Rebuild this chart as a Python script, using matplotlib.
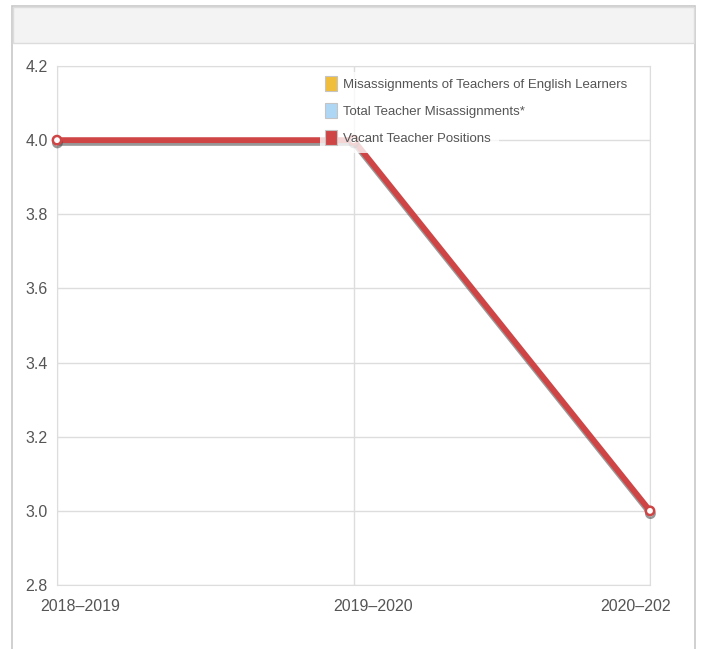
import matplotlib
matplotlib.use('Agg')
import matplotlib.pyplot as plt
import matplotlib.patheffects as pe
from matplotlib.patches import Rectangle, Patch
from matplotlib.transforms import ScaledTranslation, Bbox

plt.rcParams['font.family'] = ['Liberation Sans', 'DejaVu Sans']

years = ['2018–2019', '2019–2020', '2020–202']
vacant = [4.0, 4.0, 3.0]
series_names = ['Misassignments of Teachers of English Learners',
                'Total Teacher Misassignments*',
                'Vacant Teacher Positions']
series_colors = ['#F0BE3A', '#AED6F5', '#CF4545']
yticks = [2.8, 3.0, 3.2, 3.4, 3.6, 3.8, 4.0, 4.2]

fig = plt.figure(figsize=(7.01, 6.49), dpi=100)
W, H = 701, 649

# panel frame and header band
fig.patches.append(Rectangle((12 / W, -0.01), (695 - 12) / W, (H - 6) / H + 0.01,
                             transform=fig.transFigure, facecolor='white',
                             edgecolor='#c8c8c8', linewidth=1.2, zorder=-2))
fig.patches.append(Rectangle((13 / W, (H - 43) / H), (694 - 13) / W, 36 / H,
                             transform=fig.transFigure, facecolor='#f3f3f3',
                             edgecolor='#dcdcdc', linewidth=1, zorder=-1))

ax = fig.add_axes([57 / W, (H - 585) / H, (650 - 57) / W, (585 - 66) / H])
ax.set_facecolor('none')

ax.plot(range(len(years)), vacant, color=series_colors[2], linewidth=4.2,
        marker='o', markersize=6, markerfacecolor='white',
        markeredgecolor=series_colors[2], markeredgewidth=1.8, clip_on=False,
        solid_capstyle='butt', zorder=3,
        path_effects=[pe.SimpleLineShadow(offset=(0.3, -2.0), shadow_color='#444444', alpha=0.55),
                      pe.Normal()])

ax.set_xlim(0, len(years) - 1)
ax.set_ylim(2.8, 4.2)
ax.set_yticks(yticks)
ax.set_yticklabels(['%.1f' % v for v in yticks])
ax.set_xticks(range(len(years)))
ax.set_xticklabels(years)
ax.grid(True, color='#dddddd', linewidth=1)
ax.set_axisbelow(True)
for s in ax.spines.values():
    s.set_color('#dddddd')
ax.tick_params(length=0, colors='#555555', labelsize=11.5)
ax.tick_params(axis='y', pad=6.5)
ax.tick_params(axis='x', pad=10)

# shift x labels like the original
for lab, dx in zip(ax.get_xticklabels(), [23, 20, -14]):
    lab.set_transform(lab.get_transform() + ScaledTranslation(dx / 100, 0, fig.dpi_scale_trans))

handles = [Patch(facecolor=c, edgecolor='#c4c4c4', linewidth=0.8) for c in series_colors]
leg = ax.legend(handles, series_names, loc='upper left', bbox_to_anchor=(268 / 593, 1 - 10 / 519),
                frameon=False, fontsize=9.5, labelcolor='#555555', handlelength=0.9,
                handleheight=1.4, handletextpad=0.45, labelspacing=0.9,
                borderpad=0.0, borderaxespad=0)
leg.set_zorder(5)

# semi-transparent white box behind every legend row
fig.canvas.draw()
inv = ax.transAxes.inverted()
for h, t in zip(leg.legend_handles, leg.get_texts()):
    bb = Bbox.union([h.get_window_extent(), t.get_window_extent()])
    x0, y0 = inv.transform((bb.x0 - 5, bb.y0 - 8))
    x1, y1 = inv.transform((bb.x1 + 8, bb.y1 + 4))
    ax.add_patch(Rectangle((x0, y0), x1 - x0, y1 - y0, transform=ax.transAxes,
                           facecolor='white', alpha=0.78, edgecolor='none',
                           zorder=4, clip_on=False))

fig.savefig('out.png', dpi=100)
